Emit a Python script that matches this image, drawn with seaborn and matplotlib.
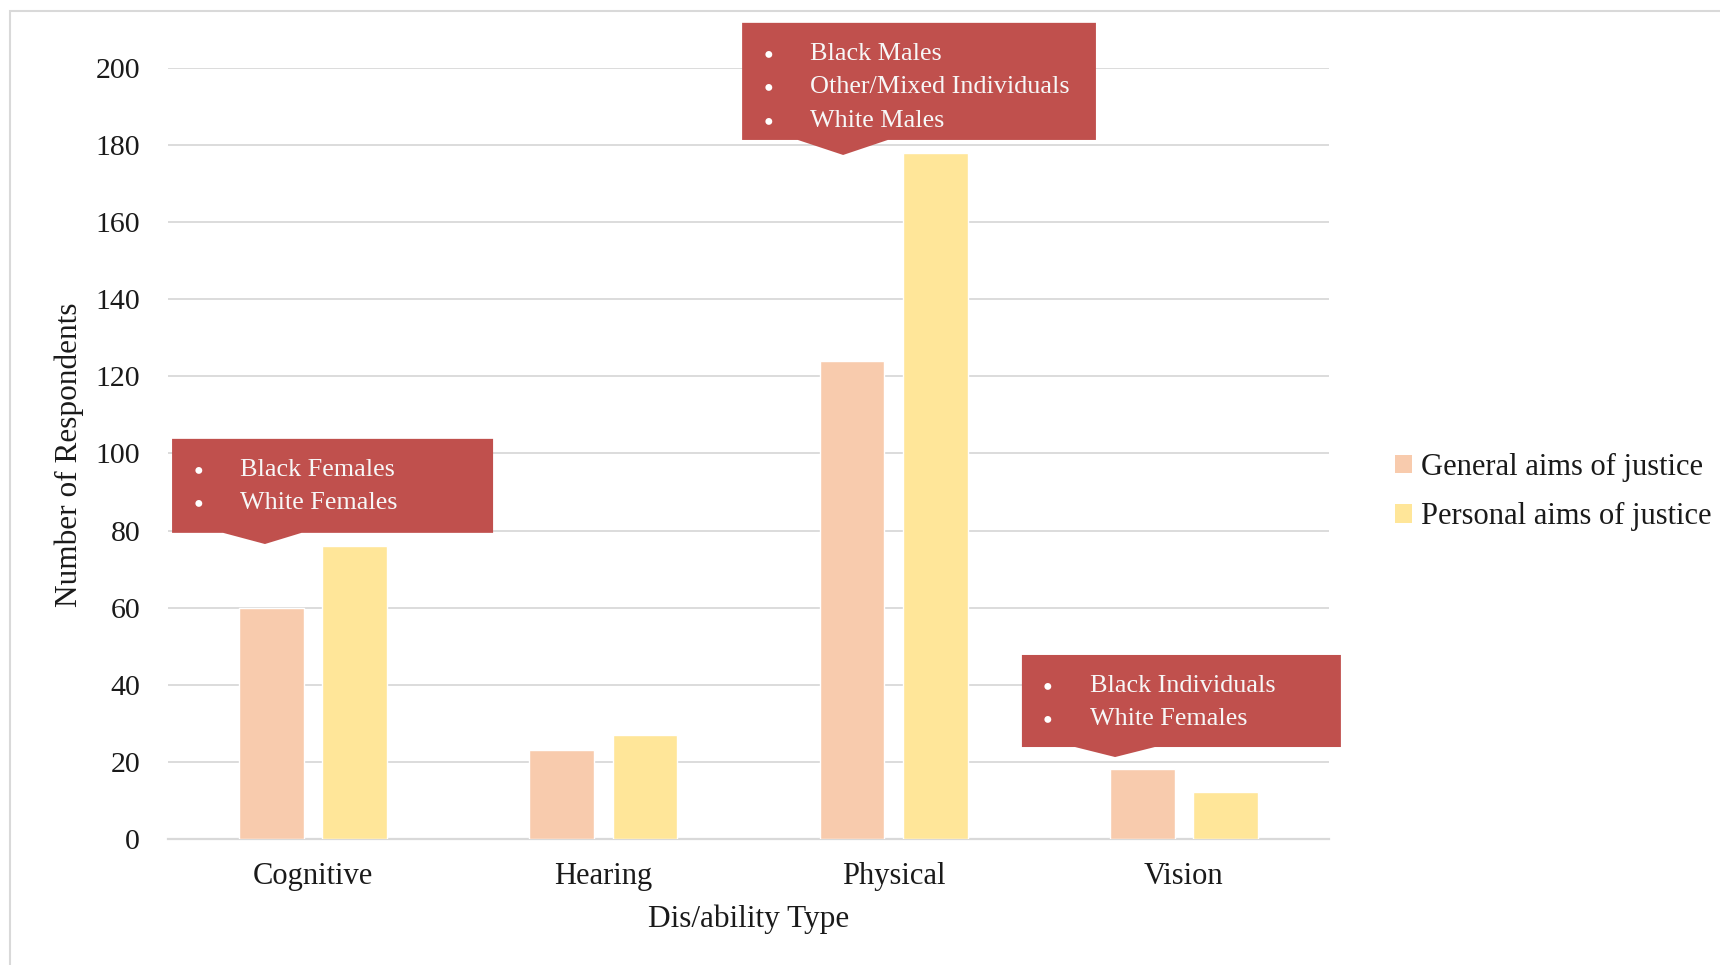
import matplotlib
matplotlib.use("Agg")
import matplotlib.pyplot as plt
import matplotlib.transforms as mtransforms
from matplotlib.patches import Polygon, Rectangle, Patch
import pandas as pd
import seaborn as sns

# --- data -------------------------------------------------------------
categories = ["Cognitive", "Hearing", "Physical", "Vision"]
series_names = ["General aims of justice", "Personal aims of justice"]
general_aims = [60, 23, 124, 18]
personal_aims = [76, 27, 178, 12]
y_ticks = [0, 20, 40, 60, 80, 100, 120, 140, 160, 180, 200]

callout_groups = {
    "Cognitive": ["Black Females", "White Females"],
    "Physical": ["Black Males", "Other/Mixed Individuals", "White Males"],
    "Vision": ["Black Individuals", "White Females"],
}

colors = ["#F8CBAD", "#FFE699"]
callout_color = "#C0504D"
grid_color = "#D9D9D9"
text_color = "#1a1a1a"

df = pd.DataFrame({
    "Dis/ability Type": categories * 2,
    "Number of Respondents": general_aims + personal_aims,
    "Series": [series_names[0]] * len(categories) + [series_names[1]] * len(categories),
})

sns.set_theme(style="white")
plt.rcParams["font.family"] = ["Liberation Serif", "DejaVu Serif"]

W, H = 1720, 965
fig = plt.figure(figsize=(W / 100, H / 100), dpi=100)
ax_h = 838.7 - 68.3
ax = fig.add_axes([168 / W, 1 - 838.7 / H, (1329 - 168) / W, ax_h / H])

sns.barplot(data=df, x="Dis/ability Type", y="Number of Respondents", hue="Series",
            palette=colors, width=0.572, gap=0.22, ax=ax, legend=False,
            saturation=1, zorder=3)

ax.set_xlim(-0.5, len(categories) - 0.5)
ax.set_ylim(0, 200)
ax.set_yticks(y_ticks)
ax.yaxis.grid(True, color=grid_color, linewidth=1.3, zorder=0)
ax.set_axisbelow(True)
for s in ["top", "right", "left"]:
    ax.spines[s].set_visible(False)
ax.spines["bottom"].set_color(grid_color)
ax.spines["bottom"].set_linewidth(1.6)
ax.tick_params(axis="both", length=0, colors=text_color)
ax.tick_params(axis="y", pad=20, labelsize=21.5)
ax.tick_params(axis="x", pad=17, labelsize=22)
ax.set_xlabel("Dis/ability Type", fontsize=22.5, color=text_color)
ax.set_ylabel("Number of Respondents", fontsize=22.5, color=text_color)
ax.xaxis.label.set_va("center")
ax.yaxis.label.set_va("center")
ax.xaxis.set_label_coords(0.5, (838.7 - 919) / ax_h)
ax.yaxis.set_label_coords((69 - 168) / (1329 - 168), 0.5 - 1.5 / ax_h)

# legend
handles = [Patch(facecolor=c, edgecolor="none") for c in colors]
fig.legend(handles, series_names, loc="center left", bbox_to_anchor=(1395 / W, 1 - 492 / H),
           frameon=False, fontsize=22, handlelength=0.55, handleheight=0.55, borderpad=0,
           borderaxespad=0, handletextpad=0.3, labelspacing=0.68, labelcolor=text_color)

# callout boxes: (left, right, top, bottom, pointer base left, base right, tip x, tip y) in data units
callout_layout = {
    "Cognitive": (-0.486, 0.620, 103.8, 79.4, -0.31, -0.04, -0.166, 76.5),
    "Physical": (1.478, 2.697, 211.8, 181.4, 1.67, 1.98, 1.826, 177.5),
    "Vision": (2.442, 3.541, 47.7, 23.8, 2.625, 2.90, 2.763, 21.2),
}

for cat, lines in callout_groups.items():
    x0, x1, yt, yb, bx0, bx1, tx, ty = callout_layout[cat]
    poly = Polygon([(x0, yt), (x1, yt), (x1, yb), (bx1, yb), (tx, ty), (bx0, yb), (x0, yb)],
                   closed=True, facecolor=callout_color, edgecolor="none",
                   zorder=5, clip_on=False)
    ax.add_patch(poly)
    for i, line in enumerate(lines):
        dy = -(31 + 33.5 * i)
        tb = mtransforms.offset_copy(ax.transData, fig=fig, x=26, y=dy, units="dots")
        tt = mtransforms.offset_copy(ax.transData, fig=fig, x=68, y=dy, units="dots")
        ax.text(x0, yt, "\u25CF", transform=tb, color="white", fontsize=11.5,
                ha="center", va="center", zorder=6, clip_on=False)
        ax.text(x0, yt, line, transform=tt, color="#F7F7F7", fontsize=18.8,
                ha="left", va="center", zorder=6, clip_on=False)

# chart-area border
fig.add_artist(Rectangle((10 / W, -0.05), 1.1, 1 - 11 / H + 0.05, transform=fig.transFigure,
                         facecolor="none", edgecolor="#D9D9D9", linewidth=1.5))

fig.savefig("out.png", dpi=100, facecolor="white")
